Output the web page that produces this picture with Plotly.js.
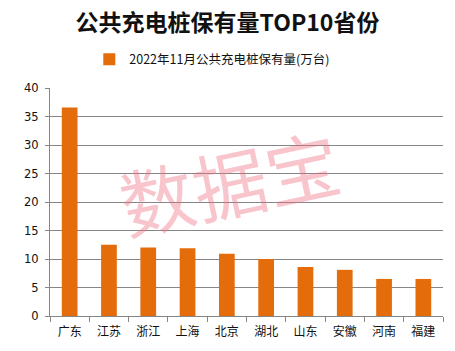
<!DOCTYPE html>
<html><head><meta charset="utf-8">
<script src="https://cdn.plot.ly/plotly-3.0.1.min.js"></script>
<style>html,body{margin:0;padding:0;background:#fff;}</style>
</head><body>
<div id="chart" style="width:455px;height:351px;"></div>
<script>
const provinces = ["广东","江苏","浙江","上海","北京","湖北","山东","安徽","河南","福建"];
const values = [36.6, 12.5, 12.0, 11.9, 10.9, 10.0, 8.6, 8.1, 6.5, 6.5];
const seriesName = "2022年11月公共充电桩保有量(万台)";
const yTicks = [0,5,10,15,20,25,30,35,40];

const font = "'Noto Sans CJK SC', 'Noto Sans', sans-serif";
const numFont = "'DejaVu Sans', sans-serif";
const trace = {
  type: "bar", x: provinces, y: values, name: seriesName,
  marker: {color: "#E46C0A"}, showlegend: true
};
const layout = {
  width: 455, height: 351,
  margin: {l: 50, r: 12, t: 88, b: 35},
  paper_bgcolor: "#fff", plot_bgcolor: "#fff",
  bargap: 0.6,
  showlegend: true,
  title: {text: "<b>公共充电桩保有量TOP10省份</b>", x: 0.5, xanchor: "center", y: 0.935, yanchor: "middle",
          font: {family: font, size: 23, color: "#111"}},
  legend: {orientation: "h", x: 0.1, xanchor: "left", xref: "paper", y: 1.125, yanchor: "middle",
           font: {family: font, size: 12.5, color: "#111"}},
  xaxis: {type: "category", ticks: "outside", tickson: "boundaries", ticklen: 5, tickcolor: "#868686",
          showline: true, linecolor: "#868686", linewidth: 1, ticklabelstandoff: 5,
          tickfont: {family: font, size: 12, color: "#111"}, fixedrange: true},
  yaxis: {range: [0, 40], tickvals: yTicks, showgrid: true, gridcolor: "#868686", gridwidth: 1,
          showline: true, linecolor: "#868686", zeroline: false, ticks: "outside", ticklen: 4, tickcolor: "#868686",
          ticklabelstandoff: 4,
          tickfont: {family: numFont, size: 11.5, color: "#111"}},
  annotations: [{text: "数据宝", xref: "paper", yref: "paper", x: 0.455, y: 0.596, showarrow: false,
    textangle: -12, font: {family: font, size: 74, color: "rgba(240,110,130,0.4)"}}]
};
Plotly.newPlot("chart", [trace], layout, {displayModeBar: false, staticPlot: true});
</script>
</body></html>
